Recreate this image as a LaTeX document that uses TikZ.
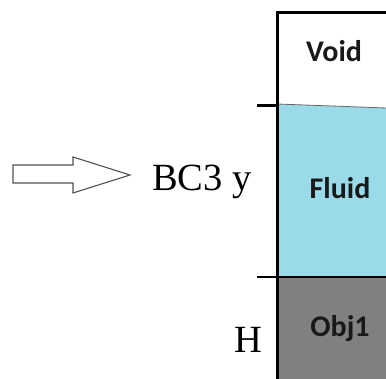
\documentclass[tikz,border=0pt]{standalone}
\usepackage{fontspec}
\setmainfont{Liberation Serif}
\newfontfamily\labelfont{Carlito}
\definecolor{fluidblue}{RGB}{155,218,233}
\definecolor{objgray}{RGB}{128,128,128}
\definecolor{arrowgray}{RGB}{80,80,80}
\begin{document}
\begin{tikzpicture}[x=1pt,y=-1pt,
  region/.style={font=\labelfont\bfseries\fontsize{30}{33}\selectfont, text=black!90, inner sep=0pt, anchor=base},
  serifl/.style={font=\fontsize{38.5}{41}\selectfont, inner sep=0pt, anchor=base west},
  wall/.style={line width=3pt, black},
  tick/.style={line width=2.5pt, black}]
\useasboundingbox (0,0) rectangle (386,379);
% regions
\fill[fluidblue] (277,104) -- (386,108) -- (386,277) -- (277,277) -- cycle;
\fill[objgray] (277,277) rectangle (386,379);
\draw[black!60, line width=0.8pt] (277,104) -- (386,108);
% walls
\draw[wall] (386,12.5) -- (277,12.5) -- (277,379);
\coordinate (t1a) at (257,105.5);
\coordinate (t1b) at (277,105.5);
\coordinate (t2a) at (257,277);
\coordinate (t2b) at (386,277);
\draw[tick] (t1a) -- (t1b);
\draw[tick] (t2a) -- (t2b);
% block arrow
\coordinate (a1) at (13,165);
\coordinate (a2) at (73,165);
\coordinate (a3) at (73,157);
\coordinate (a4) at (130,175);
\coordinate (a5) at (73,193);
\coordinate (a6) at (73,183);
\coordinate (a7) at (13,183);
\draw[arrowgray, line width=1.1pt, fill=white, line join=miter] (a1) -- (a2) -- (a3) -- (a4) -- (a5) -- (a6) -- (a7) -- cycle;
% labels
\node[region] (void) at (334,62) {Void};
\node[region] (fluid) at (340,199) {Fluid};
\node[region] (obj) at (340,337) {Obj1};
\node[serifl] (bc) at (152,191) {BC3 y};
\node[serifl] (h) at (234,353) {H};
\end{tikzpicture}
\end{document}
